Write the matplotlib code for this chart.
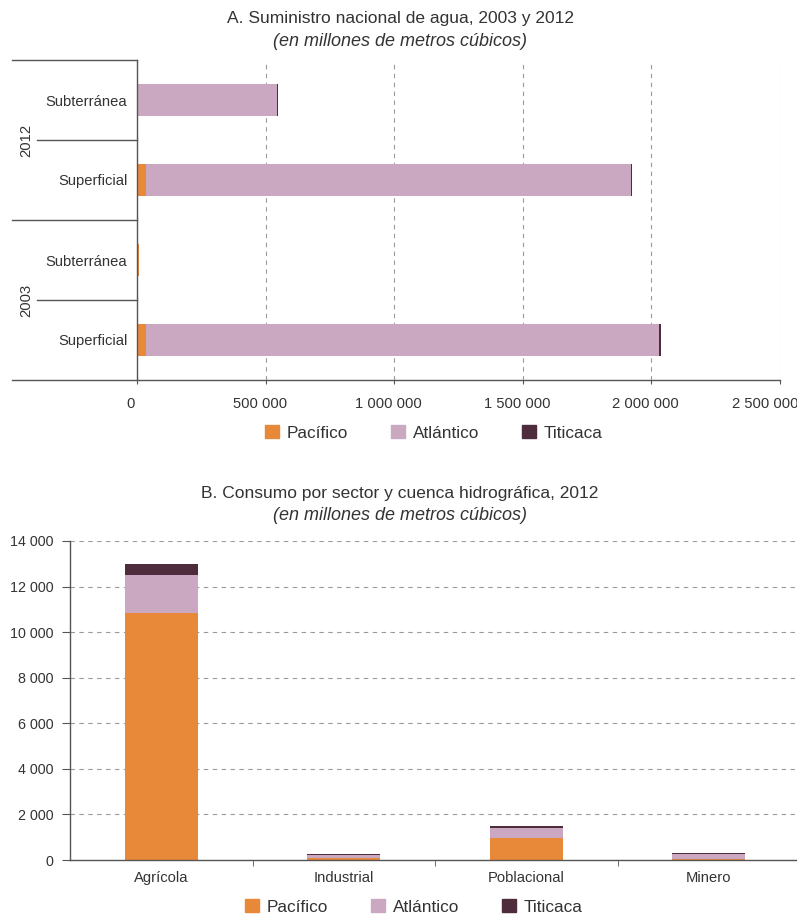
import matplotlib
matplotlib.use('Agg')
import matplotlib.pyplot as plt
import matplotlib.transforms as mtransforms
from matplotlib.patches import Patch
from matplotlib.ticker import FuncFormatter

plt.rcParams['font.family'] = ['Liberation Sans', 'DejaVu Sans']

# --- Data ---
# A. Suministro (bottom to top)
supply_rows = ['Superficial', 'Subterránea', 'Superficial', 'Subterránea']
supply_years = ['2003', '2012']
supply_pacifico = [35000, 8000, 35000, 0]
supply_atlantico = [1994000, 0, 1886000, 545000]
supply_titicaca = [10000, 0, 5000, 5000]

# B. Consumo por sector
sectors = ['Agrícola', 'Industrial', 'Poblacional', 'Minero']
cons_pacifico = [10850, 90, 960, 50]
cons_atlantico = [1650, 130, 450, 230]
cons_titicaca = [480, 30, 100, 40]

series_names = ['Pacífico', 'Atlántico', 'Titicaca']
c_pac = '#E8893A'
c_atl = '#CBA8C1'
c_tit = '#4E2C3C'
spine_c = '#555555'
grid_c = '#9a9a9a'
text_c = '#333333'


def space_fmt(v, pos):
    return f'{int(v):,}'.replace(',', ' ')


fig = plt.figure(figsize=(7.97, 9.18), dpi=100)

# ---------------- Chart A ----------------
ax1 = fig.add_axes([137 / 797, 1 - 380 / 918, 643 / 797, 320 / 918])
ypos = list(range(len(supply_rows)))
left2 = [p + a for p, a in zip(supply_pacifico, supply_atlantico)]
ax1.barh(ypos, supply_pacifico, height=0.41, color=c_pac)
ax1.barh(ypos, supply_atlantico, left=supply_pacifico, height=0.41, color=c_atl)
ax1.barh(ypos, supply_titicaca, left=left2, height=0.41, color=c_tit)
ax1.set_xlim(0, 2500000)
ax1.set_ylim(-0.5, 3.5)
ax1.set_xticks([0, 500000, 1000000, 1500000, 2000000, 2500000])
ax1.xaxis.set_major_formatter(FuncFormatter(space_fmt))
ax1.set_yticks(ypos)
ax1.set_yticklabels(supply_rows)
ax1.tick_params(axis='y', length=0, pad=7, labelsize=10.6, colors=text_c)
ax1.tick_params(axis='x', length=3, pad=9, labelsize=10.6, colors=text_c, color=spine_c)
# labels sit a bit left of their ticks in the original (last one more so, to fit)
xlabels = ax1.get_xticklabels()
for i, lab in enumerate(xlabels):
    dx = -15 if i == len(xlabels) - 1 else -6
    shift = mtransforms.ScaledTranslation(dx / 100, 0, fig.dpi_scale_trans)
    lab.set_transform(lab.get_transform() + shift)
ax1.grid(axis='x', linestyle=(0, (4, 4)), color=grid_c, linewidth=0.8)
ax1.set_axisbelow(True)
for s in ['top', 'right']:
    ax1.spines[s].set_visible(False)
for s in ['left', 'bottom']:
    ax1.spines[s].set_color(spine_c)
    ax1.spines[s].set_linewidth(1.0)

# group separators left of the axis
trans = mtransforms.blended_transform_factory(ax1.transAxes, ax1.transData)
for yy, x0 in [(3.5, -0.194), (2.5, -0.155), (1.5, -0.194), (0.5, -0.155), (-0.5, -0.194)]:
    ax1.plot([x0, 0], [yy, yy], transform=trans, color=spine_c, lw=1.0, clip_on=False)
for i, yr in enumerate(supply_years):
    ax1.text(-0.172, 2 * i + 0.5, yr, transform=trans, rotation=90, ha='center',
             va='center', fontsize=10.6, color=text_c)

fig.text(0.502, 1 - 18 / 918, 'A. Suministro nacional de agua, 2003 y 2012',
         ha='center', va='center', fontsize=12.5, color=text_c)
fig.text(0.502, 1 - 41 / 918, '(en millones de metros cúbicos)', ha='center',
         va='center', fontsize=13, style='italic', color=text_c)

handles = [Patch(color=c_pac), Patch(color=c_atl), Patch(color=c_tit)]
fig.legend(handles, series_names, loc='center', bbox_to_anchor=(434 / 797, 1 - 433 / 918),
           ncol=3, frameon=False, fontsize=12.4, handlelength=0.8, handleheight=0.8,
           columnspacing=2.5, handletextpad=0.45, labelcolor=text_c)

# ---------------- Chart B ----------------
ax2 = fig.add_axes([70 / 797, 1 - 860 / 918, 730 / 797, 319 / 918])
xpos = list(range(len(sectors)))
bot2 = [p + a for p, a in zip(cons_pacifico, cons_atlantico)]
ax2.bar(xpos, cons_pacifico, width=0.4, color=c_pac)
ax2.bar(xpos, cons_atlantico, bottom=cons_pacifico, width=0.4, color=c_atl)
ax2.bar(xpos, cons_titicaca, bottom=bot2, width=0.4, color=c_tit)
ax2.set_xlim(-0.5, 3.5)
ax2.set_ylim(0, 14000)
ax2.set_yticks(range(0, 14001, 2000))
ax2.yaxis.set_major_formatter(FuncFormatter(space_fmt))
ax2.set_xticks(xpos)
ax2.set_xticklabels(sectors)
ax2.set_xticks([0.5, 1.5, 2.5], minor=True)
ax2.tick_params(axis='x', which='major', length=0, pad=8, labelsize=10.6, colors=text_c)
ax2.tick_params(axis='x', which='minor', length=4, color=spine_c)
ax2.tick_params(axis='y', length=6, pad=6, labelsize=10.3, colors=text_c, color=spine_c)
ax2.grid(axis='y', linestyle=(0, (4, 4)), color=grid_c, linewidth=0.8)
ax2.set_axisbelow(True)
for s in ['top', 'right']:
    ax2.spines[s].set_visible(False)
for s in ['left', 'bottom']:
    ax2.spines[s].set_color(spine_c)
    ax2.spines[s].set_linewidth(1.0)

fig.text(0.502, 1 - 493 / 918, 'B. Consumo por sector y cuenca hidrográfica, 2012',
         ha='center', va='center', fontsize=12.5, color=text_c)
fig.text(0.502, 1 - 516 / 918, '(en millones de metros cúbicos)', ha='center',
         va='center', fontsize=13, style='italic', color=text_c)

fig.legend(handles, series_names, loc='center', bbox_to_anchor=(414 / 797, 1 - 907 / 918),
           ncol=3, frameon=False, fontsize=12.4, handlelength=0.8, handleheight=0.8,
           columnspacing=2.5, handletextpad=0.45, labelcolor=text_c)

fig.savefig('out.png', dpi=100)
